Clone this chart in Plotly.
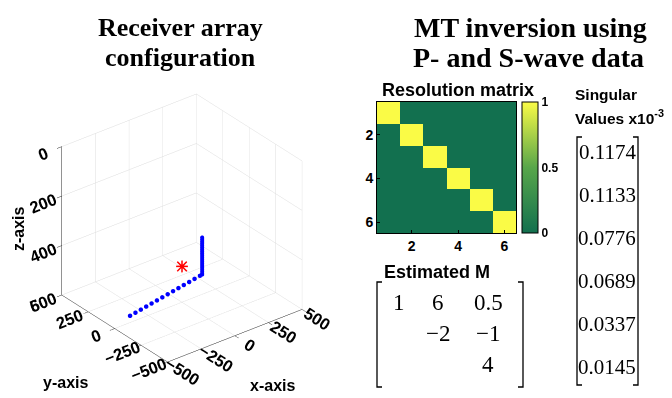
import plotly.graph_objects as go

W, H = 672, 398

# ---- receiver array geometry (m); depth positive downward ----
vert_x = [150, 150, 150, 150, 150, 150, 150, 150, 150, 150,
          150, 150, 150, 150, 150, 150, 150, 150, 150, 150]
vert_y = [0, 0, 0, 0, 0, 0, 0, 0, 0, 0, 0, 0, 0, 0, 0, 0, 0, 0, 0, 0]
vert_z = [370, 378, 386, 394, 402, 410, 418, 426, 434, 442,
          450, 458, 466, 474, 482, 490, 498, 506, 514, 520]

horiz_x = [-480, -433, -386, -339, -292, -245, -198, -151, -104, -57, -10, 37, 84, 131]
horiz_y = [-120, -111, -102, -93, -84, -75, -66, -57, -48, -39, -30, -21, -12, -3]
horiz_z = [520, 520, 520, 520, 520, 520, 520, 520, 520, 520, 520, 520, 520, 520]

event_x = [0]
event_y = [0]
event_z = [455]

axis_ticks = [-500, -250, 0, 250, 500]
depth_ticks = [0, 200, 400, 600]

# ---- inversion results ----
resolution = [
    [1, 0, 0, 0, 0, 0],
    [0, 1, 0, 0, 0, 0],
    [0, 0, 1, 0, 0, 0],
    [0, 0, 0, 1, 0, 0],
    [0, 0, 0, 0, 1, 0],
    [0, 0, 0, 0, 0, 1],
]
res_index = [1, 2, 3, 4, 5, 6]
res_ticks = [2, 4, 6]
cbar_ticks = [0, 0.5, 1]

m_estimated = [
    [1, 6, 0.5],
    [None, -2, -1],
    [None, None, 4],
]

singular_values = [0.1174, 0.1133, 0.0776, 0.0689, 0.0337, 0.0145]


def px(x):
    return x / W


def py(y):
    return 1 - y / H


SANS = "Liberation Sans"
SERIF = "Liberation Serif"
blue = "#0000ff"
red = "#ff0000"

fig = go.Figure()

# receivers
fig.add_trace(go.Scatter3d(x=vert_x, y=vert_y, z=vert_z, mode="markers",
                           marker=dict(size=2.4, color=blue, line=dict(width=0)),
                           showlegend=False, hoverinfo="skip"))
fig.add_trace(go.Scatter3d(x=horiz_x, y=horiz_y, z=horiz_z, mode="markers",
                           marker=dict(size=2.6, color=blue, line=dict(width=0)),
                           showlegend=False, hoverinfo="skip"))
# source drawn as an asterisk (plus and times glyphs overlaid)
for glyph in ("+", "\u00d7"):
    fig.add_trace(go.Scatter3d(x=event_x, y=event_y, z=event_z, mode="text",
                               text=[glyph], textposition="middle center",
                               textfont=dict(family="DejaVu Sans", size=19,
                                             color=red),
                               showlegend=False, hoverinfo="skip"))

# resolution matrix
fig.add_trace(go.Heatmap(
    z=resolution, x=res_index, y=res_index,
    xaxis="x", yaxis="y",
    zmin=0, zmax=1,
    colorscale=[[0, "#12704f"], [0.5, "#58a64a"], [1, "#fafb46"]],
    hoverinfo="skip",
    colorbar=dict(
        x=px(522), xanchor="left", xpad=0, ypad=0,
        y=py(167.5), yanchor="middle",
        len=131 / H, lenmode="fraction",
        thickness=16, thicknessmode="pixels",
        outlinewidth=1, outlinecolor="#000000",
        tickvals=cbar_ticks, ticktext=["0", "0.5", "1"],
        ticks="", ticklabelposition="outside",
        tickfont=dict(family=SANS, size=12, color="#000000", weight="bold"),
    ),
))

axis3d = dict(
    showbackground=True, backgroundcolor="#ffffff",
    gridcolor="#dcdcdc", gridwidth=1,
    showline=True, linecolor="#262626", linewidth=1,
    zeroline=False, showspikes=False,
    ticks="outside", ticklen=6, tickcolor="#262626",
    tickfont=dict(family=SANS, size=14, color="#000000", weight="bold"),
    title=dict(text=""),
)

fig.update_layout(
    width=W, height=H,
    margin=dict(l=0, r=0, t=0, b=0),
    paper_bgcolor="#ffffff", plot_bgcolor="#ffffff",
    showlegend=False,
    scene=dict(
        domain=dict(x=[0.015, 0.535], y=[0.02, 0.84]),
        xaxis=dict(axis3d, range=[-500, 500], tickvals=axis_ticks),
        yaxis=dict(axis3d, range=[-500, 500], tickvals=axis_ticks),
        zaxis=dict(axis3d, range=[600, 0], tickvals=depth_ticks),
        aspectmode="manual",
        aspectratio=dict(x=1.05, y=1.05, z=1.05),
        camera=dict(
            projection=dict(type="orthographic"),
            eye=dict(x=-0.97, y=-1.26, z=0.92),
            up=dict(x=0, y=0, z=1),
            center=dict(x=0.02, y=0, z=0),
        ),
        bgcolor="#ffffff",
    ),
    xaxis=dict(
        domain=[px(377), px(516)], anchor="y",
        range=[0.5, 6.5], tickvals=res_ticks,
        ticks="inside", ticklen=3, tickcolor="#000000",
        showline=True, linecolor="#000000", linewidth=1, mirror=True,
        showgrid=False, zeroline=False,
        tickfont=dict(family=SANS, size=14, color="#000000", weight="bold"),
    ),
    yaxis=dict(
        domain=[py(233), py(102)], anchor="x",
        range=[6.5, 0.5], tickvals=res_ticks,
        ticks="inside", ticklen=3, tickcolor="#000000",
        showline=True, linecolor="#000000", linewidth=1, mirror=True,
        showgrid=False, zeroline=False,
        tickfont=dict(family=SANS, size=14, color="#000000", weight="bold"),
    ),
)

ann = []


def text(x, y, s, size, family=SANS, bold=True, xanchor="center",
         yanchor="middle", angle=0):
    ann.append(dict(
        x=px(x), y=py(y), xref="paper", yref="paper", text=s,
        showarrow=False, xanchor=xanchor, yanchor=yanchor, textangle=angle,
        font=dict(family=family, size=size, color="#000000",
                  weight="bold" if bold else "normal"),
    ))


# panel titles
text(180, 28, "<b>Receiver array</b>", 26, family=SERIF)
text(180, 58, "<b>configuration</b>", 26, family=SERIF)
text(530, 28, "<b>MT inversion using</b>", 28, family=SERIF)
text(528, 58, "<b>P- and S-wave data</b>", 28, family=SERIF)

# 3-D axis titles
text(18, 229, "z-axis", 16, angle=-90)
text(65, 382, "y-axis", 16)
text(272, 385, "x-axis", 16)

# right-hand panel labels
text(458, 90, "Resolution matrix", 18)
text(382, 272, "Estimated M", 18, xanchor="left")
text(573, 95, "Singular", 15.5, xanchor="left")
text(573, 117, "Values x10<sup>-3</sup>", 15.5, xanchor="left")


def fmt(v):
    return f"{v:g}".replace("-", "\u2212")


# estimated moment tensor (upper triangle)
m_cols = [399, 438, 488]
m_rows = [302, 333, 364]
for i, row in enumerate(m_estimated):
    for j, v in enumerate(row):
        if v is not None:
            text(m_cols[j], m_rows[i], fmt(v), 23, family=SERIF, bold=False)

# singular values column
sv_rows = [152, 195, 238, 281, 324, 367]
for v, yy in zip(singular_values, sv_rows):
    text(607, yy, f"{v:.4f}", 21, family=SERIF, bold=False)

fig.update_layout(annotations=ann)


def bracket(x, y0, y1, side):
    d = 5 if side == "left" else -5
    path = (f"M {px(x + d)},{py(y0)} L {px(x)},{py(y0)} "
            f"L {px(x)},{py(y1)} L {px(x + d)},{py(y1)}")
    return dict(type="path", xref="paper", yref="paper", path=path,
                line=dict(color="#000000", width=1.3))


fig.update_layout(shapes=[
    bracket(377, 282, 387, "left"),
    bracket(523, 282, 387, "right"),
    bracket(577, 137, 385, "left"),
    bracket(638, 137, 385, "right"),
])

fig.write_html("out.html")
